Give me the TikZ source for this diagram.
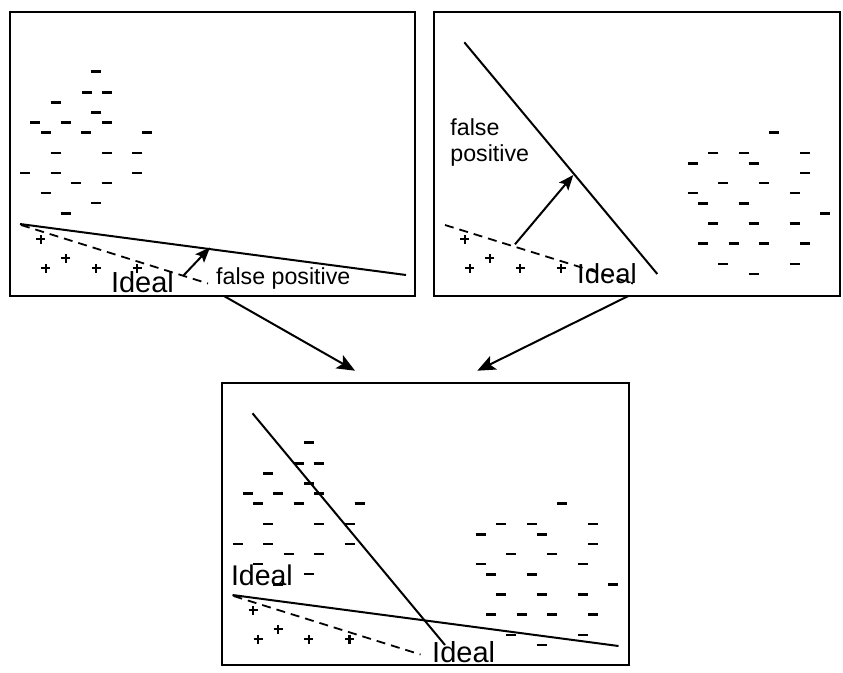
\documentclass[tikz,border=0pt]{standalone}
\usepackage{fontspec}
\setmainfont{Liberation Sans}
\usetikzlibrary{arrows.meta}

% point lists of the two classes
\newcommand\negA{96.3/71.7, 86.7/92.3, 106.7/92.3, 55.7/102.3, 96.3/112.7, 35.3/122.7, 65.7/122.7, 106.7/122.7, 45.7/132.7, 86.3/132.7, 147/132.7, 55.7/153, 106.7/153, 137/153, 25.3/173, 55.7/173, 137/173, 76/183, 106.7/183, 45.7/193, 96.3/203, 65.7/213.3}
\newcommand\negB{774.3/132.7, 713.3/153, 744/153, 805/153, 692.7/163.3, 753.7/163.3, 805/173, 723.3/183, 764/183, 692.7/193, 794.7/193, 703/203.3, 743.7/203.3, 825.3/213.3, 713.3/223.3, 753.7/223.3, 794.7/223.3, 703/243.7, 733.7/243.7, 764/243.7, 805/243.7, 723.3/264, 794.7/264, 753.7/274}
\newcommand\posA{40.7/239.3, 65.7/258.3, 45.7/268.3, 96.3/268.3, 137/268.3}

\tikzset{
  panel/.style={draw, rectangle, line width=2.4pt, inner sep=0pt},
  boundary/.style={line width=2pt},
  idealline/.style={line width=1.8pt, dash pattern=on 9pt off 6pt},
  negmark/.style={line width=2.6pt},
  posmark/.style={line width=2.2pt},
  lbl/.style={inner sep=0pt, anchor=base west, font=\fontsize{23.2}{27}\selectfont},
  biglbl/.style={inner sep=0pt, anchor=base west, font=\fontsize{29}{34}\selectfont},
  flow/.style={line width=2pt, -{Stealth[length=18pt,width=15pt,inset=4pt]}},
  move/.style={line width=2pt, -{Stealth[length=15pt,width=12pt,inset=3pt]}}
}

\newcommand\drawneg[1]{\foreach \x/\y in #1 {\draw[negmark] (\x-5,\y) -- (\x+5,\y);}}
\newcommand\drawpos[1]{\foreach \x/\y in #1 {\draw[posmark] (\x-4.5,\y) -- (\x+4.5,\y) (\x,\y-4.5) -- (\x,\y+4.5);}}

\begin{document}
\begin{tikzpicture}[x=1pt, y=-1pt]
\useasboundingbox (0,0) rectangle (843,672);

% frames
\node[panel, minimum width=405pt, minimum height=284pt] (p1) at (212.5,154) {};
\node[panel, minimum width=406pt, minimum height=284pt] (p2) at (637,154) {};
\node[panel, minimum width=407pt, minimum height=282pt] (p3) at (425.5,524) {};

% ---- left panel
\drawneg{\negA}
\drawpos{\posA}
\coordinate (a1) at (21,225); \coordinate (a2) at (208,283.5);
\draw[idealline] (a1) -- (a2);
\coordinate (b1) at (20,224); \coordinate (b2) at (406,275);
\draw[boundary] (b1) -- (b2);
\coordinate (m1) at (183,276); \coordinate (m2) at (210,247.5);
\draw[move] (m1) -- (m2);
\node[biglbl] (id1) at (110.8,292) {Ideal};
\node[lbl] (fp1) at (216,284) {false positive};

% ---- right panel
\drawneg{\negB}
\begin{scope}[shift={(424,0)}]
  \drawpos{\posA}
  \coordinate (c1) at (21,225); \coordinate (c2) at (209,283.5);
  \draw[idealline] (c1) -- (c2);
\end{scope}
\coordinate (d1) at (464.3,42.3); \coordinate (d2) at (657.3,274);
\draw[boundary] (d1) -- (d2);
\coordinate (n1) at (515,244.3); \coordinate (n2) at (573.3,175);
\draw[move] (n1) -- (n2);
\node[lbl] (fp2a) at (450.2,135) {false};
\node[lbl] (fp2b) at (450.2,161.5) {positive};
\node[biglbl, font=\fontsize{27.5}{32}\selectfont] (id2) at (577,283) {Ideal};

% ---- combined panel
\begin{scope}[shift={(212.5,371)}]
  \drawneg{\negA}
  \drawpos{\posA}
  \coordinate (e1) at (21,225); \coordinate (e2) at (208,283.5);
  \draw[idealline] (e1) -- (e2);
\end{scope}
\begin{scope}[shift={(-212,371)}]
  \drawneg{\negB}
\end{scope}
\coordinate (f1) at (232.5,595); \coordinate (f2) at (618.5,646);
\draw[boundary] (f1) -- (f2);
\coordinate (g1) at (252.5,413.3); \coordinate (g2) at (445,645);
\draw[boundary] (g1) -- (g2);
\node[biglbl, font=\fontsize{28.5}{33}\selectfont] (id3) at (230.8,585) {Ideal};
\node[biglbl] (id4) at (432,662) {Ideal};

% ---- merging arrows
\coordinate (s1) at (224,296); \coordinate (t1) at (355,370.7);
\coordinate (s2) at (628.3,296); \coordinate (t2) at (477.3,370.7);
\draw[flow] (s1) -- (t1);
\draw[flow] (s2) -- (t2);
\end{tikzpicture}
\end{document}
